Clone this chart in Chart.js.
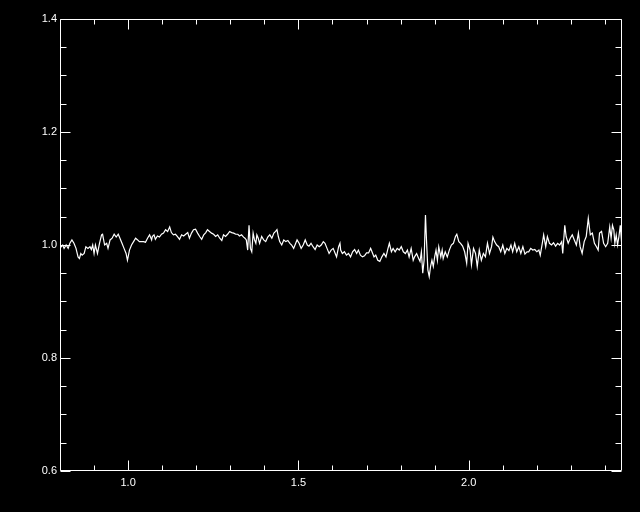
<!DOCTYPE html>
<html>
<head>
<meta charset="utf-8">
<script src="https://cdn.jsdelivr.net/npm/chart.js@4"></script>
<style>
html, body { margin: 0; padding: 0; background: #000; }
canvas { display: block; }
</style>
</head>
<body>
<canvas id="spec" width="640" height="512"></canvas>
<script>
// wavelength (x) and normalised flux (y)
let wavelength = [
    0.802,0.808,0.812,0.818,0.824,0.829,0.835,0.841,0.847,0.853,0.857,0.861,0.865,0.871,0.876,0.882,0.888,0.892,0.896,0.900,
    0.904,0.910,0.916,0.922,0.925,0.931,0.937,0.941,0.947,0.953,0.959,0.965,0.971,0.976,0.982,0.988,0.994,0.998,1.004,1.010,
    1.016,1.022,1.028,1.033,1.039,1.045,1.051,1.057,1.063,1.069,
    1.071,1.076,1.080,1.086,1.092,1.098,1.104,1.110,1.116,1.122,1.127,1.133,1.139,1.145,1.151,1.157,1.163,1.169,1.175,1.180,
    1.186,1.192,1.198,1.204,1.210,1.216,1.222,1.228,1.233,1.239,1.245,1.251,1.257,1.263,1.269,1.275,1.280,1.286,1.292,1.298,
    1.304,1.310,1.316,1.322,1.327,1.333,1.339,1.343,
    1.347,1.351,1.355,1.359,1.363,1.367,1.371,1.375,1.378,1.382,1.386,1.392,1.398,1.404,1.410,1.416,1.422,1.428,1.433,1.437,
    1.441,1.445,1.451,1.457,1.463,1.469,1.475,1.480,1.486,1.492,1.496,1.502,1.508,1.514,1.520,1.526,1.531,1.537,1.543,1.549,
    1.555,1.561,1.567,1.573,1.578,1.584,1.590,1.596,1.602,1.608,1.612,1.618,1.622,
    1.624,1.629,1.635,1.641,1.647,1.653,1.659,1.665,1.671,1.676,1.682,1.688,1.694,1.700,1.706,1.712,1.718,1.722,1.727,1.733,
    1.739,1.745,1.751,1.757,1.763,1.767,1.773,1.778,1.784,1.790,1.796,1.802,1.808,1.814,1.820,1.825,1.831,1.837,1.841,1.847,
    1.853,1.857,1.861,1.865,1.869,1.873,1.876,1.880,1.884,1.888,1.892,1.896,
    1.900,1.904,1.908,1.912,1.918,1.922,1.925,1.931,1.937,1.943,1.949,1.955,1.961,1.965,1.971,1.976,1.982,1.988,1.994,1.998,
    2.004,2.008,2.014,2.020,2.025,2.031,2.037,2.043,2.049,2.055,2.061,2.067,2.071,2.076,2.082,2.088,2.094,2.100,2.106,2.112,
    2.118,2.124,2.129,2.135,2.141,2.147,2.153,2.159,2.165,2.171,
    2.176,2.182,2.188,2.194,2.200,2.206,2.210,2.216,2.220,2.226,2.231,2.237,2.243,2.249,2.255,2.261,2.267,2.273,2.276,2.282,
    2.286,2.292,2.298,2.304,2.310,2.316,2.322,2.327,2.333,2.339,2.345,2.351,2.357,2.363,2.369,2.375,2.380,2.384,2.390,2.396,
    2.402,2.408,2.414,2.418,2.422,2.426,2.429,2.433,2.437,2.441,2.445,2.449,2.453
];
let flux = [
    0.996,1.000,0.994,1.000,0.994,1.003,1.009,1.003,0.994,0.979,0.976,0.985,0.982,0.985,0.997,0.994,0.997,0.992,1.000,0.985,
    1.000,0.985,1.003,1.018,1.019,1.000,1.003,0.994,1.009,1.012,1.019,1.014,1.019,1.012,1.003,0.994,0.985,0.973,0.991,1.000,
    1.006,1.012,1.009,1.006,1.006,1.006,1.005,1.012,1.018,1.009,
    1.015,1.018,1.010,1.016,1.014,1.019,1.021,1.027,1.024,1.032,1.022,1.018,1.019,1.015,1.010,1.018,1.016,1.019,1.022,1.012,
    1.021,1.027,1.028,1.021,1.015,1.010,1.018,1.022,1.027,1.024,1.021,1.019,1.015,1.018,1.012,1.008,1.018,1.015,1.019,1.024,
    1.022,1.021,1.019,1.019,1.016,1.018,1.014,1.012,
    1.009,0.991,1.035,0.994,0.988,1.021,1.009,1.003,1.018,1.012,1.003,1.015,1.009,1.006,1.014,1.018,1.012,1.021,1.024,1.027,
    1.015,1.006,1.000,1.009,1.006,1.008,1.003,1.000,0.994,1.003,1.009,1.003,0.994,1.000,1.009,1.000,0.998,1.003,0.997,0.992,
    1.000,0.997,1.000,1.006,1.003,0.994,0.985,0.991,0.994,0.985,0.979,0.997,1.003,
    0.991,0.985,0.988,0.982,0.985,0.979,0.988,0.992,0.985,0.991,0.982,0.979,0.981,0.986,0.986,0.994,0.985,0.979,0.982,0.973,
    0.971,0.979,0.985,0.979,0.994,1.003,0.988,0.994,0.988,0.994,0.991,0.997,0.988,0.985,0.991,0.979,0.994,0.973,0.979,0.985,
    0.976,0.971,0.988,0.950,0.973,1.053,1.009,0.956,0.944,0.962,0.973,0.962,
    0.979,0.991,0.973,0.997,0.979,0.991,0.976,0.988,0.979,0.991,1.000,1.003,1.015,1.019,1.006,1.003,0.998,0.988,0.968,1.003,
    0.991,0.965,0.994,0.985,0.962,0.991,0.973,0.985,0.979,1.003,0.985,0.997,1.014,1.006,1.000,0.997,0.988,1.000,0.985,0.994,
    0.990,1.000,0.988,1.003,0.988,0.997,0.985,0.997,0.984,0.988,
    0.988,0.994,0.991,0.992,0.988,0.991,0.982,1.003,1.018,0.997,1.015,1.003,1.000,1.004,0.998,1.003,1.000,1.006,0.985,1.035,
    1.015,1.003,1.012,1.018,1.009,1.000,1.021,0.997,0.985,1.006,1.015,1.047,1.018,1.021,1.003,0.997,0.991,1.021,1.024,1.003,
    0.997,1.003,1.032,1.012,1.035,1.027,1.003,1.018,1.000,1.015,1.035,1.003,1.027
];
let x_ticks = [1.0, 1.5, 2.0];
let y_ticks = [0.6, 0.8, 1.0, 1.2, 1.4];

let tick_font = { family: 'Liberation Sans', size: 11 };

// IDL style frame: box with inward ticks on all four sides
let frame = {
    id: 'frame',
    beforeDraw(chart) {
        let ctx = chart.ctx;
        ctx.save();
        ctx.fillStyle = '#000';
        ctx.fillRect(0, 0, chart.width, chart.height);
        ctx.restore();
    },
    afterDraw(chart) {
        let ctx = chart.ctx;
        let a = chart.chartArea;
        let xs = chart.scales.x, ys = chart.scales.y;
        let l = Math.round(a.left) + 0.5, r = Math.round(a.right) - 0.5;
        let t = Math.round(a.top) + 0.5, b = Math.round(a.bottom) - 0.5;
        ctx.save();
        ctx.strokeStyle = '#fff';
        ctx.lineWidth = 1;
        ctx.beginPath();
        ctx.rect(l, t, r - l, b - t);
        for (let i = 8; i <= 24; i++) {
            let px = Math.round(xs.getPixelForValue(i / 10)) + 0.5;
            let len = (i % 5 === 0) ? 10 : 5;
            ctx.moveTo(px, b); ctx.lineTo(px, b - len);
            ctx.moveTo(px, t); ctx.lineTo(px, t + len);
        }
        for (let i = 12; i <= 28; i++) {
            let py = Math.round(ys.getPixelForValue(i * 0.05)) + 0.5;
            let len = (i % 4 === 0) ? 10 : 6;
            ctx.moveTo(l, py); ctx.lineTo(l + len, py);
            ctx.moveTo(r, py); ctx.lineTo(r - len, py);
        }
        ctx.stroke();
        ctx.restore();
    }
};

let ctx = document.getElementById('spec').getContext('2d');
let chart = new Chart(ctx, {
    type: 'line',
    data: {
        datasets: [{
            data: wavelength.map((w, i) => ({ x: w, y: flux[i] })),
            borderColor: '#fff',
            borderWidth: 1.2,
            pointRadius: 0,
            tension: 0,
            fill: false
        }]
    },
    options: {
        responsive: false,
        animation: false,
        layout: { padding: { top: 19, right: 18, left: 0, bottom: 0 } },
        plugins: { legend: { display: false }, tooltip: { enabled: false } },
        scales: {
            x: {
                type: 'linear',
                min: 0.8,
                max: 2.45,
                grid: { display: false, drawTicks: false },
                border: { display: false },
                ticks: {
                    color: '#fff', font: tick_font, padding: 5,
                    maxRotation: 0, autoSkip: false,
                    callback: v => v.toFixed(1)
                },
                afterBuildTicks: s => { s.ticks = x_ticks.map(v => ({ value: v })); },
                afterFit: s => { s.height = 41; }
            },
            y: {
                min: 0.6,
                max: 1.4,
                grid: { display: false, drawTicks: false },
                border: { display: false },
                ticks: {
                    color: '#fff', font: tick_font, padding: 3,
                    autoSkip: false,
                    callback: v => v.toFixed(1)
                },
                afterBuildTicks: s => { s.ticks = y_ticks.map(v => ({ value: v })); },
                afterFit: s => { s.width = 60; }
            }
        }
    },
    plugins: [frame]
});
</script>
</body>
</html>
